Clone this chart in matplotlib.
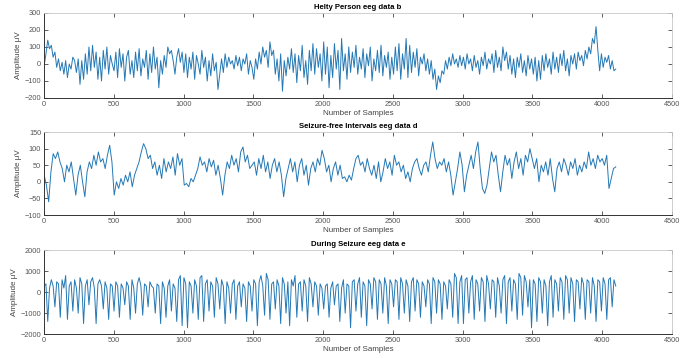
import numpy as np
import matplotlib
matplotlib.use('Agg')
import matplotlib.pyplot as plt

# EEG amplitudes (uV), evenly spaced over 4097 samples
healthy_b = [
    -10, 60, 140, 90, 110, 40, 70, -20, 30, -40,
    10, -60, 20, -80, 0, -30, 40, 20, -50, 30,
    -120, 20, -90, 60, -60, 100, -40, 110, -20, 70,
    -90, 40, -100, 80, -30, 100, -60, 50, 0,
    -40, 70, -80, 90, -20, 60, -100, 40, 80, -60,
    20, -80, 70, -40, 90, -70, 30, -20, 80, -90,
    60, -50, 100, -30, 40, -140, 20, -60, 50, -20,
    100, 60, 80, 20, -60, 40, 90, 10, 70,
    -50, 60, -80, 40, -30, 70, -90, 50, 0, -60,
    80, -20, 40, -100, 20, -70, 60, -40, 10, -150,
    -60, 30, -50, 60, -20, 40, 0, 20, -30, 50,
    -10, 40, -40, 30, 0, 60, -60, 20, -20,
    -90, 30, -30, 70, 0, 100, 40, 80, -20, 130,
    50, 80, -60, 30, -100, 60, -160, 20, -70, 40,
    -30, 90, -50, 60, -110, 50, -40, 110, -80, 20,
    -120, 80, -40, 120, -60, 90, -20, 60, -100,
    130, -60, 100, -140, 50, -80, 120, -30, 80, -150,
    150, -40, 60, -90, 100, -50, 70, -20, 110, -60,
    40, -30, 90, -80, 60, -10, 100, -100, 30, -40,
    80, -50, 110, -70, 50, -20, 70, -90, 40,
    -60, 100, -40, 120, -90, 60, -30, 150, -80, 110,
    -50, 70, -20, 90, -70, 40, 0, 60, -40, 30,
    -60, 20, -90, -30, -150, -70, -110, -40, -60, 20,
    -30, 40, -10, 60, 0, 30, -20, 50, -10,
    40, -30, 60, 0, 30, -40, 50, -20, 20, -60,
    40, -10, 70, -30, 30, 0, 60, -50, 80, -20,
    40, -40, 100, 20, 70, -30, 50, -60, 30, -80,
    40, -20, 60, -50, 20, -70, 50, -30, 30,
    -60, 40, -100, 20, -90, 50, -40, 60, -20, 30,
    -60, 70, -30, 40, -50, 60, -10, 80, -40, 30,
    -70, 50, 0, 60, -30, 70, 20, 50, -10, 80,
    30, 100, 60, 150, 120, 220, 80, -40, 60, -20,
    40, 10, 50, -30, 20, -40, -30,
]

seizure_free_d = [
    20, -10, -60, 30, 85, 70, 90, 60, 40, 0,
    50, 30, 60, 10, -40, 20, 50, 0, -45, 30,
    60, 40, 80, 50, 90, 60, 70, 40, 80, 110,
    60,
    -40, 0, -20, 10, -10, 20, 0, 30, -15, 20,
    40, 60, 90, 115, 100, 70, 80, 40, 60, 20,
    50, 10, 70, 30, 60, 40, 75, 20, 85, 50,
    70,
    -10, -5, -15, 10, 0, 20, 40, 75, 50, 60,
    30, 70, 45, 65, 20, 50, 10, -40, 20, 60,
    40, 80, 50, 70, 30, 90, 105, 60, 80, 40,
    50,
    60, 20, 70, 40, 80, 30, 60, 10, 50, 70,
    30, 60, 20, -45, 10, 40, 70, 30, 60, 0,
    50, 70, 20, 50, -10, 40, 60, 30, 70, 50,
    95,
    70, 30, 50, 0, 40, 60, 20, 50, 10, 15,
    0, 20, 5, 40, 70, 80, 50, 60, 30, 70,
    40, 20, 50, 10, 60, 0, 30, 70, 40, 60,
    20,
    80, 50, 60, 30, 50, 10, 30, 0, 40, 60,
    70, 40, 20, 50, 60, 30, 80, 120, 70, 40,
    60, 50, 70, 30, 60, 20, -40, 0, 40, 90,
    50,
    -30, 20, 50, 80, 40, 90, 120, 40, -20, -35,
    -10, 40, 90, 60, 80, 20, -30, 30, 80, 50,
    70, 10, 60, 90, 40, 70, 20, 80, 60, 100,
    70,
    40, 70, 0, 50, 30, 60, 20, 70, 10, -30,
    40, 60, 30, 70, 50, 20, 60, 40, 70, 20,
    50, 30, 60, 40, 90, 50, 70, 40, 80, 60,
    70, 50, 80, -20, 10, 40, 45,
]

seizure_e = [
    300, 400, -1400, 200, 600, 300, -700, 500, 400, -1200,
    600, 200, 800, -1300, 300, 500, -900, 600, 200, -1000,
    700, 400, -1500, 300, 600, -600, 500, 700, 200, -1500,
    400, 600, 300, -800, 500, 200, -1300, 400, 300,
    -900, 500, 300, -1200, 400, 200, -600, 500, 300, -1300,
    600, 200, -1000, 400, 700, 300, -1100, 400, 300, -700,
    500, 300, 200, -1000, 400, 300, -1500, 500, 200, -1200,
    300, 600, -900, 400, 200, -1400, 600, 800, -1600,
    700, 400, -1700, 500, 300, -1000, 600, 300, -1300, 700,
    800, -1400, 400, 600, -900, 500, 300, -1200, 700, 400,
    -800, 600, 300, -1500, 500, 200, -1000, 400, 600, -1300,
    300, 500, -700, 400, 200, -1400, 500, 300, -900,
    600, 400, -1600, 500, 800, 300, -1100, 900, 600, -1300,
    400, 500, -800, 600, 300, -1500, 700, 400, -1000, 500,
    -1600, 600, 300, 800, -1200, 400, 500, -900, 600, 300,
    -1400, 700, 400, -700, 500, 300, -1100, 400, 200,
    -800, 300, 400, -1200, 200, 500, -600, 300, 400, -1400,
    200, 600, -1000, 400, 300, -1700, 500, 600, -900, 400,
    700, -1200, 500, 300, -1600, 600, 400, -800, 700, 500,
    -1300, 600, 400, -1000, 700, 300, -1500, 600, 400,
    -700, 600, 500, -1300, 700, 400, -1000, 600, 300, -1400,
    500, 700, -900, 600, 400, -1200, 500, 300, -700, 600,
    400, -1500, 700, 500, -1000, 600, 400, -1300, 500, 300,
    -800, 600, 400, -1200, 900, 700, -1500, 500, 800,
    -1500, 600, 700, -1000, 500, 800, -1300, 600, 400, -900,
    700, 500, -1400, 800, 400, -800, 600, 500, -1200, 700,
    300, -1000, 600, 800, -1500, 500, 700, -900, 600, 400,
    -1300, 900, 700, -1100, 800, 500, -700, 600, -1700,
    600, 400, -1400, 700, 500, -1000, 600, 300, -1600, 500,
    800, -1200, 600, 400, -900, 700, 500, -1300, 800, 600,
    -1000, 700, 400, -1400, 600, 500, -800, 700, 400, -1300,
    600, 500, -1000, 700, 300, -1400, 600, 500, -900, 700,
    400, -1300, 600, 700, -700, 600, 300,
]

titles = ['Helty Person eeg data b',
          'Seizure-free Intervals eeg data d',
          'During Seizure eeg data e']
series = [healthy_b, seizure_free_d, seizure_e]
ylims = [(-200, 300), (-100, 150), (-2000, 2000)]
yticks = [[-200, -100, 0, 100, 200, 300],
          [-100, -50, 0, 50, 100, 150],
          [-2000, -1000, 0, 1000, 2000]]
n_samples = 4097

plt.rcParams['font.family'] = ['Liberation Sans', 'DejaVu Sans']

fig = plt.figure(figsize=(6.91, 3.58), dpi=100)
fig.patch.set_facecolor('white')

boxes = [(0.0637, 0.7263, 0.9088, 0.2374),
         (0.0637, 0.3994, 0.9088, 0.2318),
         (0.0637, 0.0670, 0.9088, 0.2333)]

for box, vals, title, yl, yt in zip(boxes, series, titles, ylims, yticks):
    ax = fig.add_axes(box)
    x = np.linspace(1, n_samples, len(vals))
    ax.plot(x, vals, color='#2478b5', linewidth=0.7)
    ax.set_xlim(0, 4500)
    ax.set_ylim(*yl)
    ax.set_xticks(range(0, 4501, 500))
    ax.set_yticks(yt)
    ax.tick_params(direction='in', length=3, width=0.6, top=True, right=True,
                   labelsize=5.3, labelcolor='#555555', color='#444444', pad=2)
    for side in ['left', 'bottom']:
        ax.spines[side].set_color('#333333')
        ax.spines[side].set_linewidth(0.7)
    for side in ['top', 'right']:
        ax.spines[side].set_color('#c8c8c8')
        ax.spines[side].set_linewidth(0.6)
    ax.set_title(title, fontsize=5.6, fontweight='bold', pad=3)
    ax.set_xlabel('Number of Samples', fontsize=5.8, color='#444444', labelpad=1.5)
    ax.set_ylabel('Amplitude μV', fontsize=5.8, color='#444444', labelpad=2)

fig.savefig('out.png', dpi=100)
